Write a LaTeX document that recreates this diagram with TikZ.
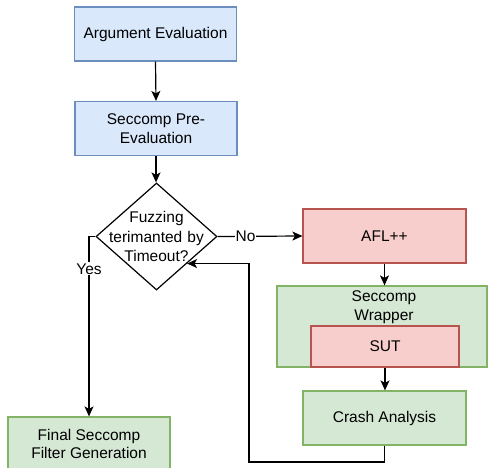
\documentclass[tikz,border=0pt]{standalone}
\usepackage{fontspec}
\setmainfont{Liberation Sans}
\usetikzlibrary{shapes.geometric,arrows.meta}
\definecolor{bfill}{HTML}{DAE8FC}\definecolor{bline}{HTML}{6C8EBF}
\definecolor{rfill}{HTML}{F8CECC}\definecolor{rline}{HTML}{B85450}
\definecolor{gfill}{HTML}{D5E8D4}\definecolor{gline}{HTML}{82B366}
\begin{document}
\begin{tikzpicture}[x=1pt,y=-1pt,
  every node/.style={font=\fontsize{15.5}{18.5}\selectfont, align=center, inner sep=0pt},
  box/.style={draw, line width=1.2pt, rectangle, minimum width=162pt, minimum height=54pt},
  bluebox/.style={box, fill=bfill, draw=bline},
  redbox/.style={box, fill=rfill, draw=rline},
  greenbox/.style={box, fill=gfill, draw=gline},
  arr/.style={draw, line width=1.2pt, -{Stealth[length=10pt,width=9pt,inset=2.5pt]}},
  lbl/.style={fill=white, inner sep=1pt}]
\clip (0,0) rectangle (488,468);
\useasboundingbox (0,0) rectangle (488,468);
\node[bluebox] (arg) at (155.5,34) {Argument Evaluation};
\node[bluebox] (pre) at (156,128.5) {Seccomp Pre-\\Evaluation};
\node[diamond, draw, line width=1.2pt, fill=white, minimum width=121pt, minimum height=107pt, aspect=1.13] (dec) at (156.5,236.5) {};
\node[text width=110pt, font=\fontsize{15.5}{19.5}\selectfont] (dect) at (156.5,236.5) {Fuzzing\\terimanted by\\Timeout?};
\node[redbox, minimum width=163pt] (afl) at (384.5,236) {AFL++};
\node[greenbox, minimum width=210pt, minimum height=81pt] (wrap) at (382,326.5) {};
\node (wrapt) at (384,307) {Seccomp\\Wrapper};
\node[redbox, minimum width=148pt, minimum height=41pt] (sut) at (385,346.5) {SUT};
\node[greenbox, minimum width=163pt] (crash) at (384.5,418) {Crash Analysis};
\node[greenbox] (final) at (89,444) {Final Seccomp\\Filter Generation};
\coordinate (fb) at (249,462);
\draw[arr] (arg.south) -- (pre.north);
\draw[arr] (pre.south) -- (pre.south |- dec.north);
\draw[arr] (dec.east) -- node[lbl, pos=0.33] (no) {No} (afl.west);
\draw[arr] (afl.south) -- (afl.south |- wrap.north);
\draw[arr] (sut.south) -- (sut.south |- crash.north);
\draw[arr] (crash.south) |- (fb) |- (dec.south east);
\draw[arr] (dec.west) -| node[lbl, pos=0.59] (yes) {Yes} (final.north);
\end{tikzpicture}
\end{document}
